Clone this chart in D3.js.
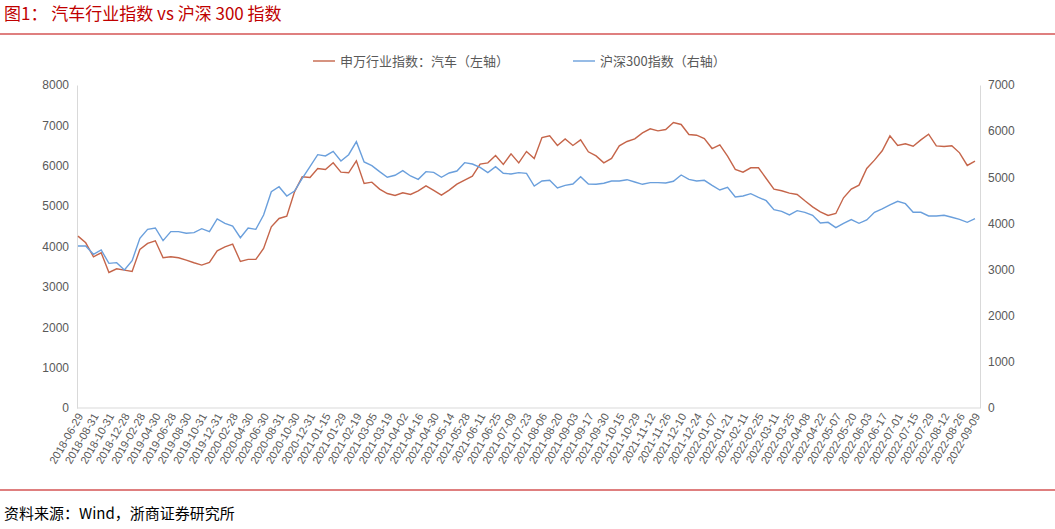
<!DOCTYPE html><html><head><meta charset="utf-8"><script src="https://cdn.jsdelivr.net/npm/d3@7"></script>
<style>body{margin:0;background:#fff}text{font-family:"Noto Sans CJK SC","Liberation Sans",sans-serif}</style></head><body><svg id="c" width="1055" height="529"></svg><script>
const tickLabels=["2018-06-29","2018-08-31","2018-10-31","2018-12-28","2019-02-28","2019-04-30","2019-06-28","2019-08-30","2019-10-31","2019-12-31","2020-02-28","2020-04-30","2020-06-30","2020-08-31","2020-10-30","2020-12-31","2021-01-15","2021-01-29","2021-02-19","2021-03-05","2021-03-19","2021-04-02","2021-04-16","2021-04-30","2021-05-14","2021-05-28","2021-06-11","2021-06-25","2021-07-09","2021-07-23","2021-08-06","2021-08-20","2021-09-03","2021-09-17","2021-09-30","2021-10-15","2021-10-29","2021-11-12","2021-11-26","2021-12-10","2021-12-24","2022-01-07","2022-01-21","2022-02-11","2022-02-25","2022-03-11","2022-03-25","2022-04-08","2022-04-22","2022-05-07","2022-05-20","2022-06-03","2022-06-17","2022-07-01","2022-07-15","2022-07-29","2022-08-12","2022-08-26","2022-09-09"];
const autoIndex=[4257,4092,3746,3845,3358,3449,3416,3383,3927,4076,4142,3721,3746,3721,3663,3597,3540,3606,3894,3993,4059,3630,3680,3680,3952,4488,4694,4752,5354,5725,5709,5932,5907,6072,5842,5825,6121,5561,5594,5421,
5313,5264,5330,5289,5380,5503,5388,5272,5396,5545,5644,5743,6040,6072,6255,6032,6295,6072,6354,6180,6700,6740,6502,6666,6502,6641,6345,6245,6072,6180,6493,6601,6666,6815,6914,6864,6897,7072,7022,
6774,6757,6675,6427,6518,6238,5908,5842,5949,5949,5685,5421,5380,5322,5289,5132,4983,4859,4769,4818,5206,5421,5520,5932,6139,6370,6740,6502,6543,6485,6641,6782,6493,6477,6493,6320,6007,6114];
const hs300=[3511,3511,3330,3424,3135,3150,2991,3193,3677,3872,3901,3626,3822,3822,3786,3800,3887,3822,4096,4003,3944,3691,3901,3872,4183,4688,4796,4595,4703,4978,5230,5490,5462,5563,5353,5490,5772,5332,5252,5122,
5000,5043,5143,5028,4956,5122,5107,5000,5093,5136,5317,5288,5216,5100,5230,5086,5071,5100,5086,4811,4920,4934,4768,4826,4855,5014,4855,4848,4870,4920,4920,4948,4898,4848,4884,4884,4877,4913,5050,
4956,4920,4934,4826,4725,4783,4573,4595,4645,4566,4493,4298,4263,4183,4277,4241,4176,4010,4024,3908,4003,4082,4003,4075,4241,4313,4400,4480,4428,4241,4241,4161,4161,4176,4133,4089,4024,4103];
const leftTicks=[0,1000,2000,3000,4000,5000,6000,7000,8000];
const rightTicks=[0,1000,2000,3000,4000,5000,6000,7000];
const seriesNames=["申万行业指数：汽车（左轴）","沪深300指数（右轴）"];
const colors=["#c5654a","#6a9fdc"];
const svg=d3.select("#c");
const L=77,R=980,T=85,B=408;
const x=d3.scalePoint().domain(d3.range(autoIndex.length)).range([L+1,R-5]);
const yl=d3.scaleLinear().domain([0,8000]).range([B,T]);
const yr=d3.scaleLinear().domain([0,7000]).range([B,T]);
svg.append("text").attr("x",4).attr("y",20).attr("fill","#c00000").attr("font-size",17).text("图1：   汽车行业指数 vs 沪深 300 指数");
svg.append("line").attr("x1",0).attr("x2",1055).attr("y1",34).attr("y2",34).attr("stroke","#c00000").attr("stroke-width",1.2);
svg.append("line").attr("x1",0).attr("x2",1055).attr("y1",490).attr("y2",490).attr("stroke","#c00000").attr("stroke-width",1.2);
svg.append("text").attr("x",4).attr("y",519).attr("font-size",15).attr("fill","#000").text("资料来源：Wind，浙商证券研究所");
const ga=svg.append("g").attr("transform",`translate(${L},0)`).call(d3.axisLeft(yl).tickValues(leftTicks).tickSize(0).tickPadding(8).tickFormat(d3.format("d")));
const gb=svg.append("g").attr("transform",`translate(${R},0)`).call(d3.axisRight(yr).tickValues(rightTicks).tickSize(0).tickPadding(8).tickFormat(d3.format("d")));
const gx=svg.append("g").attr("transform",`translate(0,${B})`).call(d3.axisBottom(x).tickValues(d3.range(0,autoIndex.length,2)).tickSize(0).tickFormat(i=>tickLabels[i/2]));
gx.select(".domain").attr("d",`M${L},0H${R}`);
gx.selectAll("text").attr("transform","rotate(-60)").attr("text-anchor","end").attr("dx","-0.4em").attr("dy","0.5em");
[ga,gb,gx].forEach(g=>{g.select(".domain").attr("stroke","#d9d9d9");g.selectAll("text").attr("fill","#595959").attr("font-size",12).style("font-family","Liberation Sans, Arial, sans-serif");});
gx.selectAll("text").attr("font-size",11);
const ln=(s)=>d3.line().x((d,i)=>x(i)).y(d=>s(d));
svg.append("path").datum(autoIndex).attr("d",ln(yl)).attr("fill","none").attr("stroke",colors[0]).attr("stroke-width",1.4);
svg.append("path").datum(hs300).attr("d",ln(yr)).attr("fill","none").attr("stroke",colors[1]).attr("stroke-width",1.4);
const lg=[[313,seriesNames[0]],[573,seriesNames[1]]];
lg.forEach(([lx,t],k)=>{svg.append("line").attr("x1",lx).attr("x2",lx+22).attr("y1",61).attr("y2",61).attr("stroke",colors[k]).attr("stroke-width",1.4);
svg.append("text").attr("x",lx+27).attr("y",66).attr("font-size",13).attr("fill","#595959").text(t);});
</script></body></html>
